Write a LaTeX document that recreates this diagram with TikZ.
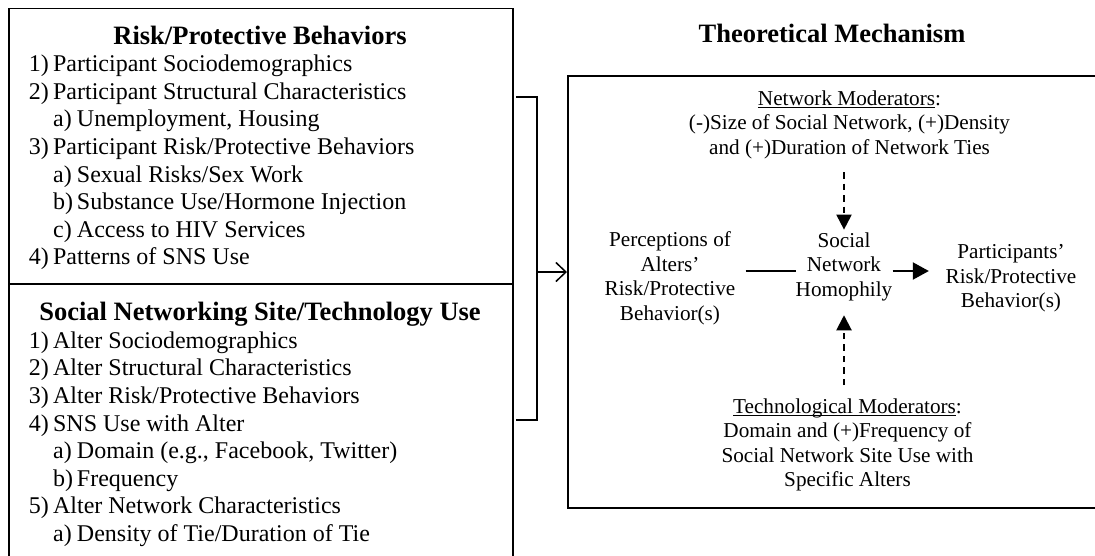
\documentclass[tikz,border=0pt]{standalone}
\usepackage{fontspec}
\setmainfont{Liberation Serif}
\usetikzlibrary{arrows.meta}
\newsavebox\myulbox
\newcommand\myul[1]{\sbox\myulbox{#1}\rlap{\rule[-2.5pt]{\wd\myulbox}{1pt}}\usebox\myulbox}
\newcommand\myitem[1]{\strut\makebox[24.3pt][l]{#1}}
\newcommand\mysub[1]{\strut\hspace*{24.3pt}\makebox[23.9pt][l]{#1}}
\tikzset{
  frame/.style={draw, line width=1.8pt, inner sep=0pt, anchor=north west},
  ttl/.style={font=\fontsize{26.5}{30}\selectfont\bfseries, anchor=base, inner sep=0pt},
  lst/.style={font=\fontsize{24}{27.6}\selectfont, align=left, anchor=north west, inner sep=0pt},
  mech/.style={font=\fontsize{21.2}{24.5}\selectfont, align=center, inner sep=0pt},
  bracket/.style={line width=1.5pt},
  openarrow/.style={line width=1.5pt, -{Straight Barb[length=10pt,width=19pt]}},
  dasharrow/.style={line width=2pt, dash pattern=on 6.5pt off 5pt, -{Triangle[length=15pt,width=15pt]}},
  solidline/.style={line width=2pt},
  solidarrow/.style={line width=2pt, -{Triangle[length=16pt,width=17pt]}}
}
\begin{document}
\begin{tikzpicture}[x=1pt,y=-1pt]
\useasboundingbox (0,0) rectangle (1095,555);
\clip (0,0) rectangle (1095,555);

% left boxes
\node[frame, minimum width=504pt, minimum height=275.5pt] (rp) at (8,7.5) {};
\node[frame, minimum width=504pt, minimum height=290pt] (sn) at (8,283) {};

\node[ttl] (rpt) at (260,44) {Risk/Protective Behaviors};
\node[lst] (rpl) at (28.6,52.2) {%
\myitem{1)}Participant Sociodemographics\\
\myitem{2)}Participant Structural Characteristics\\
\mysub{a)}Unemployment, Housing\\
\myitem{3)}Participant Risk/Protective Behaviors\\
\mysub{a)}Sexual Risks/Sex Work\\
\mysub{b)}Substance Use/Hormone Injection\\
\mysub{c)}Access to HIV Services\\
\myitem{4)}Patterns of SNS Use};

\node[ttl] (snt) at (260,320.5) {Social Networking Site/Technology Use};
\node[lst] (snl) at (28.6,328.7) {%
\myitem{1)}Alter Sociodemographics\\
\myitem{2)}Alter Structural Characteristics\\
\myitem{3)}Alter Risk/Protective Behaviors\\
\myitem{4)}SNS Use with Alter\\
\mysub{a)}Domain (e.g., Facebook, Twitter)\\
\mysub{b)}Frequency\\
\myitem{5)}Alter Network Characteristics\\
\mysub{a)}Density of Tie/Duration of Tie};

% right box
\node[ttl] (tmt) at (832,42.5) {Theoretical Mechanism};
\node[frame, minimum width=540pt, minimum height=432pt] (tm) at (567,75) {};

\node[mech] (netmod) at (849.5,124.9) {\strut\myul{Network Moderators}:\\\strut(-)Size of Social Network, (+)Density\\\strut and (+)Duration of Network Ties};
\node[mech, inner xsep=10pt] (perc) at (670,278.6) {\strut Perceptions of\\\strut Alters'\\\strut Risk/Protective\\\strut Behavior(s)};
\node[mech] (soc) at (844,266.6) {\strut Social\\\strut Network\\\strut Homophily};
\node[mech, inner xsep=16.6pt] (part) at (1011,278.1) {\strut Participants'\\\strut Risk/Protective\\\strut Behavior(s)};
\node[mech] (tech) at (847.5,445.1) {\strut\myul{Technological Moderators}:\\\strut Domain and (+)Frequency of\\\strut Social Network Site Use with\\\strut Specific Alters};

\coordinate (midy) at (700,271);
\draw[solidline] (perc.east |- midy) -- (soc.west |- midy);
\draw[solidarrow] (soc.east |- midy) -- (part.west |- midy);
\draw[dasharrow, shorten <=10.3pt] (soc.north |- netmod.south) -- (soc.north);
\draw[dasharrow, shorten <=10.7pt, shorten >=11.7pt] (soc.south |- tech.north) -- (soc.south);

% bracket
\coordinate (bt) at (516,97);
\coordinate (bm) at (537,272);
\coordinate (bb) at (516,420);
\draw[bracket] (bt) -| (bm) |- (bb);
\draw[openarrow] (bm) -- (tm.west |- bm);
\end{tikzpicture}
\end{document}
